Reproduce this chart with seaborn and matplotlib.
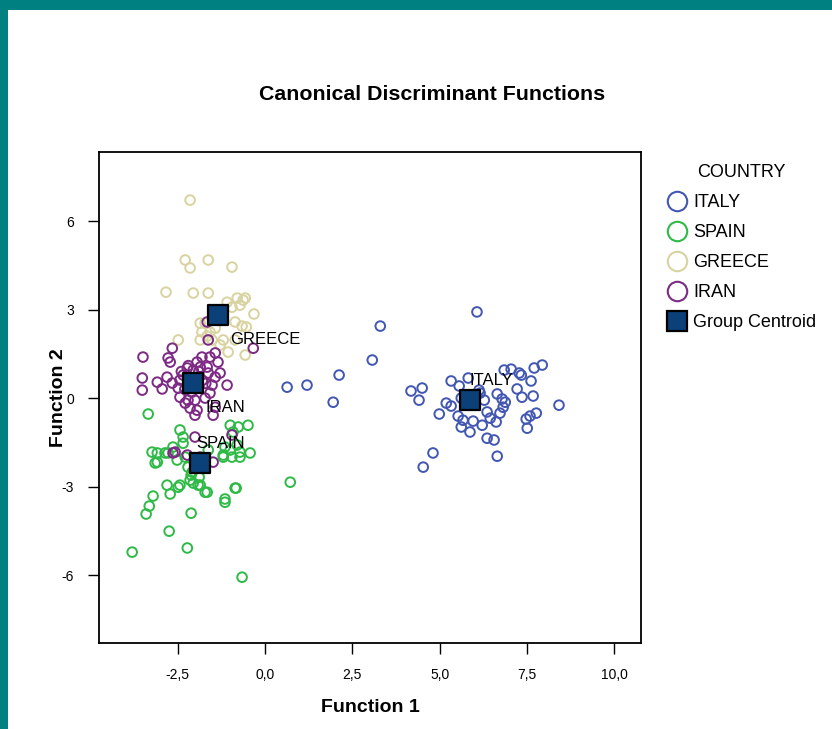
import numpy as np
import pandas as pd
import matplotlib
matplotlib.use("Agg")
import matplotlib.pyplot as plt
from matplotlib.lines import Line2D
from matplotlib.patches import Rectangle
import seaborn as sns

# ---- discriminant scores (Function 1, Function 2) per country ----
italy_f1 = [0.63, 1.20, 2.12, 1.95, 3.07, 3.30, 6.07, 6.85, 7.05, 7.28, 7.34, 7.71, 7.94,
            5.33, 5.82, 5.56, 4.18, 4.50, 4.41, 5.19, 5.33, 4.99, 5.62, 6.13, 6.28, 6.65,
            6.79, 6.88, 6.82, 7.22, 7.36, 7.62, 7.68, 6.36, 6.73, 5.53, 5.67, 5.62, 5.87,
            5.96, 6.22, 6.45, 6.62, 7.48, 7.59, 7.77, 7.51, 8.42, 6.36, 6.56, 6.65, 4.81,
            4.53, 6.16, 6.02]
italy_f2 = [0.37, 0.44, 0.78, -0.14, 1.29, 2.44, 2.92, 0.95, 0.98, 0.85, 0.78, 1.02, 1.12,
            0.58, 0.68, 0.41, 0.24, 0.34, -0.07, -0.17, -0.27, -0.54, 0.00, 0.27, -0.07, 0.14,
            -0.03, -0.14, -0.31, 0.31, 0.03, 0.58, 0.07, -0.47, -0.51, -0.61, -0.75, -0.98, -1.15,
            -0.78, -0.92, -0.68, -0.81, -0.71, -0.61, -0.51, -1.02, -0.24, -1.36, -1.42, -1.97, -1.86,
            -2.34, 0.17, -0.10]

spain_f1 = [-3.24, -3.09, -2.81, -2.72, -2.49, -2.44, -2.06, -1.86, -1.89, -2.12, -2.21, -1.66,
            -3.21, -3.32, -3.41, -2.12, -1.15, -0.83, -2.75, -3.81, -2.23, -0.66, 0.72, -1.20,
            -0.95, -0.72, -0.43, -2.52, -2.78, -3.35, -2.44, -2.35, -1.00, -0.77, -0.49, -0.92,
            -3.09, -2.87, -2.64, -2.35, -2.29, -1.63, -1.15, -1.00, -0.80, -1.20, -0.72, -2.09,
            -2.15, -1.92, -1.72, -0.86, -1.15, -2.01, -3.15]
spain_f2 = [-1.83, -2.17, -2.95, -3.25, -3.02, -2.95, -2.88, -2.95, -2.68, -2.61, -2.34, -3.19,
            -3.32, -3.66, -3.93, -3.90, -3.53, -3.05, -4.51, -5.22, -5.08, -6.07, -2.85, -1.93,
            -2.00, -1.83, -1.86, -2.10, -1.86, -0.54, -1.08, -1.32, -0.92, -0.98, -0.92, -1.15,
            -1.86, -1.86, -1.66, -1.53, -2.00, -1.76, -1.66, -1.76, -1.59, -2.00, -2.00, -2.51,
            -2.78, -2.95, -3.19, -3.05, -3.42, -2.20, -2.20]

greece_f1 = [-2.15, -2.29, -2.15, -1.63, -0.95, -2.84, -2.06, -1.63, -1.09, -0.80, -0.63, -0.57,
             -0.72, -0.95, -0.32, -0.86, -0.66, -0.54, -1.86, -1.72, -1.43, -1.81, -1.58, -1.52,
             -1.20, -1.86, -1.06, -2.49, -0.57, -1.29, -0.86, -1.66]
greece_f2 = [6.71, 4.68, 4.41, 4.68, 4.44, 3.59, 3.56, 3.56, 3.25, 3.39, 3.32, 3.39,
             3.15, 3.08, 2.85, 2.58, 2.44, 2.41, 2.54, 2.54, 2.37, 2.24, 2.24, 1.97,
             1.97, 1.97, 1.56, 1.97, 1.46, 1.80, 1.97, 2.10]

iran_f1 = [-3.50, -2.78, -2.66, -1.63, -0.34, -2.72, -3.52, -3.52, -3.09, -2.95, -2.81, -2.66,
           -2.49, -2.35, -2.23, -1.95, -1.81, -1.58, -1.43, -1.35, -1.63, -1.43, -1.29, -1.09,
           -1.52, -1.58, -1.72, -2.01, -2.21, -2.29, -2.44, -1.95, -2.15, -2.06, -1.86, -1.66,
           -2.44, -1.43, -1.49, -2.01, -1.66, -0.95, -2.01, -2.58, -2.23, -1.86, -1.49, -2.64,
           -2.20, -1.90, -2.00, -2.30, -1.80, -2.10, -1.70, -2.40, -1.90, -2.20]
iran_f2 = [1.39, 1.36, 1.69, 1.97, 1.69, 1.22, 0.68, 0.27, 0.54, 0.31, 0.71, 0.51,
           0.34, 0.78, 1.02, 1.22, 1.39, 1.39, 1.53, 1.22, 0.85, 0.71, 0.85, 0.44,
           0.44, 0.17, 0.00, -0.07, -0.07, -0.17, 0.03, -0.41, -0.34, 0.95, 1.05, 1.05,
           0.61, -0.31, -0.58, -0.58, 2.58, -1.25, -1.32, -1.83, -1.93, -2.00, -2.17, -1.86,
           0.60, 0.40, 0.70, 0.30, 0.60, 0.20, 0.50, 0.90, 0.90, 1.10]

countries = ["ITALY", "SPAIN", "GREECE", "IRAN"]
country_colors = ["#4257b2", "#2fba48", "#d8d3a0", "#7d2a84"]

# group centroids
centroid_f1 = [5.87, -1.86, -1.35, -2.06]
centroid_f2 = [-0.07, -2.20, 2.81, 0.51]

xtick_values = [-2.5, 0.0, 2.5, 5.0, 7.5, 10.0]
xtick_labels = ["-2,5", "0,0", "2,5", "5,0", "7,5", "10,0"]
ytick_values = [6, 3, 0, -3, -6]
ytick_labels = ["6", "3", "0", "-3", "-6"]

scores = pd.concat([
    pd.DataFrame({"f1": italy_f1, "f2": italy_f2, "country": "ITALY"}),
    pd.DataFrame({"f1": spain_f1, "f2": spain_f2, "country": "SPAIN"}),
    pd.DataFrame({"f1": greece_f1, "f2": greece_f2, "country": "GREECE"}),
    pd.DataFrame({"f1": iran_f1, "f2": iran_f2, "country": "IRAN"}),
], ignore_index=True)
centroids = pd.DataFrame({"f1": centroid_f1, "f2": centroid_f2, "country": countries})

sns.set_theme(style="white")
plt.rcParams["font.family"] = ["Liberation Sans", "DejaVu Sans"]
plt.rcParams["text.color"] = "black"
plt.rcParams["axes.labelcolor"] = "black"

fig = plt.figure(figsize=(8.32, 7.29), dpi=100)
fig.patch.set_facecolor("white")
# frame strips along the top and left edge
fig.patches.append(Rectangle((0, 1 - 10 / 729), 1, 10 / 729, transform=fig.transFigure,
                             facecolor="#008080", edgecolor="none", zorder=0))
fig.patches.append(Rectangle((0, 0), 8 / 832, 1, transform=fig.transFigure,
                             facecolor="#008080", edgecolor="none", zorder=0))

ax = fig.add_axes([99 / 832, 1 - 643 / 729, 542 / 832, 491 / 729])
palette = dict(zip(countries, country_colors))

sns.scatterplot(data=scores, x="f1", y="f2", hue="country", hue_order=countries,
                palette=palette, s=48, linewidth=1.4, legend=False, ax=ax, zorder=2)
# hollow circles: move the hue colour to the edge
pts = ax.collections[-1]
pts.set_edgecolors(pts.get_facecolors())
pts.set_facecolor("none")

sns.scatterplot(data=centroids, x="f1", y="f2", marker="s", s=190, color="#0b4079",
                edgecolor="black", linewidth=1.6, legend=False, ax=ax, zorder=4)

# centroid names, offset from each centroid
label_offsets = {"ITALY": (0.0, 0.68), "SPAIN": (-0.12, 0.67),
                 "GREECE": (0.35, -0.81), "IRAN": (0.34, -0.82)}
for name, cx, cy in zip(countries, centroid_f1, centroid_f2):
    dx, dy = label_offsets[name]
    ax.text(cx + dx, cy + dy, name, ha="left", va="center", fontsize=12,
            color="black", zorder=5)

ax.set_xlim(-4.76, 10.77)
ax.set_ylim(-8.3, 8.34)
ax.set_xticks(xtick_values)
ax.set_xticklabels(xtick_labels)
ax.set_yticks(ytick_values)
ax.set_yticklabels(ytick_labels)
ax.tick_params(axis="both", direction="out", length=8, width=1.0, color="black",
               labelsize=10, labelcolor="black", pad=10,
               bottom=True, left=True, top=False, right=False)
for sp in ax.spines.values():
    sp.set_visible(True)
    sp.set_color("black")
    sp.set_linewidth(1.3)

ax.set_xlabel("Function 1", fontsize=14, fontweight="bold", labelpad=12)
ax.set_ylabel("Function 2", fontsize=14, fontweight="bold")
ax.yaxis.set_label_coords(-0.059, 0.5)

fig.text(432 / 832, 1 - 95 / 729, "Canonical Discriminant Functions", ha="center",
         va="center", fontsize=15.4, fontweight="bold", color="black")

handles = [Line2D([], [], linestyle="none", marker="o", markersize=14,
                  markerfacecolor="none", markeredgecolor=c, markeredgewidth=1.5)
           for c in country_colors]
handles.append(Line2D([], [], linestyle="none", marker="s", markersize=14.5,
                      markerfacecolor="#0b4079", markeredgecolor="black",
                      markeredgewidth=1.6))
leg = fig.legend(handles, countries + ["Group Centroid"], title="COUNTRY",
                 loc="upper left", bbox_to_anchor=(659 / 832, 1 - 157 / 729),
                 frameon=False, fontsize=13, title_fontsize=13, handlelength=1.2,
                 handletextpad=0.3, labelspacing=0.72, borderaxespad=0,
                 labelcolor="black")
leg.get_title().set_color("black")

fig.savefig("out.png", dpi=100, facecolor=fig.get_facecolor())
